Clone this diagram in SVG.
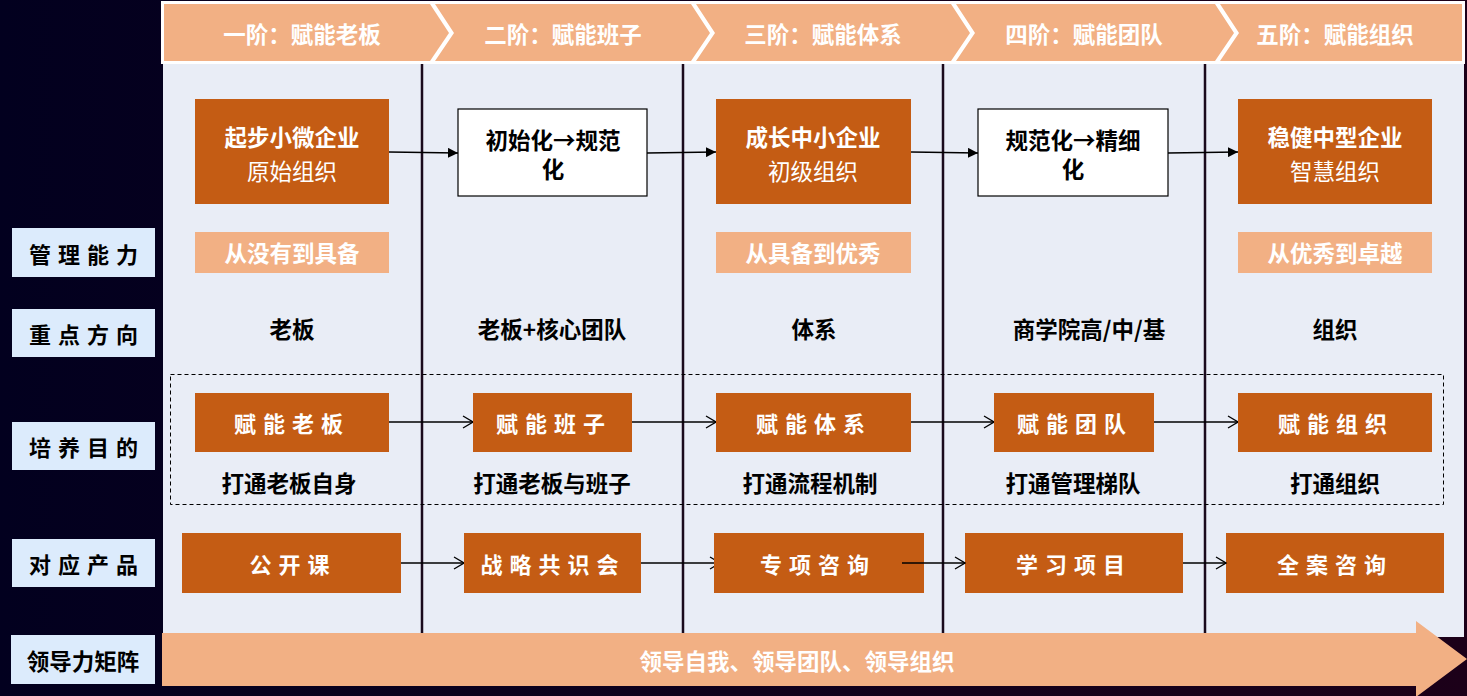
<svg xmlns="http://www.w3.org/2000/svg" width="1467" height="696" viewBox="0 0 1467 696">
<defs>
<linearGradient id="bg" x1="0" y1="0" x2="1" y2="0">
<stop offset="0" stop-color="#02001f"/>
<stop offset="1" stop-color="#1c0019"/>
</linearGradient>
<marker id="tri" viewBox="0 0 10 10" refX="10" refY="5" markerWidth="10" markerHeight="10" markerUnits="userSpaceOnUse" orient="auto">
<path d="M0,0 L10,5 L0,10 Z" fill="#000"/>
</marker>
<marker id="open" viewBox="0 0 12 14" refX="11" refY="7" markerWidth="12" markerHeight="14" markerUnits="userSpaceOnUse" orient="auto">
<path d="M1,1 L11,7 L1,13" fill="none" stroke="#000" stroke-width="1.3"/>
</marker>
<style>
.t{font-family:"Noto Sans CJK SC","Noto Sans",sans-serif;font-weight:bold;text-anchor:middle;dominant-baseline:central}
.hd{fill:#fff;font-size:22.5px}
.lab{fill:#000;font-size:22px;letter-spacing:7px}
.org{fill:#c45c14}
.peach{fill:#f2b084}
.w{fill:#fff;font-size:22.5px}
.wn{fill:#fff;font-size:22.5px;font-weight:normal}
.b{fill:#000;font-size:22.5px}
.sp{font-size:22px;letter-spacing:7px}
.div{stroke:#1a0a1c;stroke-width:2.5}
.c{stroke:#000;stroke-width:1.3;fill:none}
.lb{fill:#dcebfc}
</style>
</defs>
<rect x="0" y="0" width="1467" height="696" fill="url(#bg)"/>
<rect x="163" y="62" width="1301" height="575" fill="#e9edf6"/>
<g id="header">
<rect x="161" y="1" width="1304" height="63" fill="#fff"/>
<polygon class="peach" points="164,4 430,4 449,33 430,61 164,61"/>
<polygon class="peach" points="435,4 691,4 710,33 691,61 435,61 454,33"/>
<polygon class="peach" points="696,4 951,4 970,33 951,61 696,61 715,33"/>
<polygon class="peach" points="956,4 1215,4 1234,33 1215,61 956,61 975,33"/>
<polygon class="peach" points="1220,4 1462,4 1462,61 1220,61 1239,33"/>
<text class="t hd" x="302" y="33">一阶：赋能老板</text>
<text class="t hd" x="563" y="33">二阶：赋能班子</text>
<text class="t hd" x="823" y="33">三阶：赋能体系</text>
<text class="t hd" x="1084" y="33">四阶：赋能团队</text>
<text class="t hd" x="1335" y="33">五阶：赋能组织</text>
</g>
<g id="dividers">
<line class="div" x1="422" y1="64" x2="422" y2="633"/>
<line class="div" x1="683" y1="64" x2="683" y2="633"/>
<line class="div" x1="943" y1="64" x2="943" y2="633"/>
<line class="div" x1="1205" y1="64" x2="1205" y2="633"/>
</g>
<g id="row-labels">
<g id="l-mgmt"><rect class="lb" x="12" y="228" width="143" height="49"/><text class="t lab" x="87" y="253">管理能力</text></g>
<g id="l-focus"><rect class="lb" x="12" y="309" width="143" height="48"/><text class="t lab" x="87" y="333">重点方向</text></g>
<g id="l-goal"><rect class="lb" x="12" y="422" width="143" height="48"/><text class="t lab" x="87" y="446">培养目的</text></g>
<g id="l-prod"><rect class="lb" x="12" y="539" width="143" height="48"/><text class="t lab" x="87" y="563">对应产品</text></g>
<g id="l-lead"><rect class="lb" x="11" y="635" width="144" height="49"/><text class="t b" x="83" y="660">领导力矩阵</text></g>
</g>
<rect id="goal-frame" x="170.5" y="374.5" width="1273" height="130" fill="none" stroke="#000" stroke-width="1" stroke-dasharray="4,3"/>
<g id="connectors">
<line class="c" x1="389" y1="152" x2="458" y2="153" marker-end="url(#tri)"/>
<line class="c" x1="647" y1="153" x2="716" y2="152" marker-end="url(#tri)"/>
<line class="c" x1="911" y1="152" x2="978" y2="153" marker-end="url(#tri)"/>
<line class="c" x1="1168" y1="153" x2="1238" y2="152" marker-end="url(#tri)"/>
<line class="c" x1="389" y1="422" x2="473" y2="422" marker-end="url(#open)"/>
<line class="c" x1="632" y1="422" x2="716" y2="422" marker-end="url(#open)"/>
<line class="c" x1="911" y1="422" x2="994" y2="422" marker-end="url(#open)"/>
<line class="c" x1="1154" y1="422" x2="1238" y2="422" marker-end="url(#open)"/>
<line class="c" x1="401" y1="563" x2="464" y2="563" marker-end="url(#open)"/>
<line class="c" x1="641" y1="563" x2="720" y2="563" marker-end="url(#open)"/>
</g>
<g id="stage1"><rect class="org" x="195" y="99" width="194" height="105"/><text class="t w" x="292" y="136">起步小微企业</text><text class="t wn" x="292" y="170">原始组织</text></g>
<g id="stage2"><rect x="458" y="109" width="189" height="87" fill="#fff" stroke="#000" stroke-width="1.2"/><text class="t b" x="553" y="139">初始化→规范<tspan x="553" dy="29">化</tspan></text></g>
<g id="stage3"><rect class="org" x="716" y="99" width="195" height="105"/><text class="t w" x="813" y="136">成长中小企业</text><text class="t wn" x="813" y="170">初级组织</text></g>
<g id="stage4"><rect x="978" y="109" width="190" height="87" fill="#fff" stroke="#000" stroke-width="1.2"/><text class="t b" x="1073" y="139">规范化→精细<tspan x="1073" dy="29">化</tspan></text></g>
<g id="stage5"><rect class="org" x="1238" y="99" width="194" height="105"/><text class="t w" x="1335" y="136">稳健中型企业</text><text class="t wn" x="1335" y="170">智慧组织</text></g>
<g id="mgmt1"><rect class="peach" x="195" y="232" width="194" height="41"/><text class="t w" x="292" y="252">从没有到具备</text></g>
<g id="mgmt3"><rect class="peach" x="716" y="232" width="195" height="41"/><text class="t w" x="813" y="252">从具备到优秀</text></g>
<g id="mgmt5"><rect class="peach" x="1238" y="232" width="194" height="41"/><text class="t w" x="1335" y="252">从优秀到卓越</text></g>
<g id="focus">
<text class="t b" x="292" y="328">老板</text>
<text class="t b" x="552" y="328">老板+核心团队</text>
<text class="t b" x="814" y="328">体系</text>
<text class="t b" x="1089" y="328">商学院高/中/基</text>
<text class="t b" x="1335" y="328">组织</text>
</g>
<g id="goal1"><rect class="org" x="195" y="393" width="194" height="59"/><text class="t w sp" x="292" y="422">赋能老板</text><text class="t b" x="289" y="482">打通老板自身</text></g>
<g id="goal2"><rect class="org" x="473" y="393" width="159" height="59"/><text class="t w sp" x="554" y="422">赋能班子</text><text class="t b" x="552" y="482">打通老板与班子</text></g>
<g id="goal3"><rect class="org" x="716" y="393" width="195" height="59"/><text class="t w sp" x="814" y="422">赋能体系</text><text class="t b" x="810" y="482">打通流程机制</text></g>
<g id="goal4"><rect class="org" x="994" y="393" width="160" height="59"/><text class="t w sp" x="1075" y="422">赋能团队</text><text class="t b" x="1073" y="482">打通管理梯队</text></g>
<g id="goal5"><rect class="org" x="1238" y="393" width="194" height="59"/><text class="t w sp" x="1336" y="422">赋能组织</text><text class="t b" x="1335" y="482">打通组织</text></g>
<g id="prod1"><rect class="org" x="182" y="533" width="219" height="60"/><text class="t w sp" x="293" y="563">公开课</text></g>
<g id="prod2"><rect class="org" x="464" y="533" width="177" height="60"/><text class="t w sp" x="553" y="563">战略共识会</text></g>
<g id="prod3"><rect class="org" x="714" y="533" width="210" height="60"/><text class="t w sp" x="818" y="563">专项咨询</text></g>
<g id="prod4"><rect class="org" x="965" y="533" width="218" height="60"/><text class="t w sp" x="1074" y="563">学习项目</text></g>
<g id="prod5"><rect class="org" x="1226" y="533" width="218" height="60"/><text class="t w sp" x="1335" y="563">全案咨询</text></g>
<g id="connectors-over">
<line class="c" x1="902" y1="563" x2="965" y2="563" marker-end="url(#open)"/>
<line class="c" x1="1183" y1="563" x2="1226" y2="563" marker-end="url(#open)"/>
</g>
<g id="leadership">
<polygon class="peach" points="162,633 1416,633 1416,621 1467,659 1416,697 1416,686 162,686"/>
<text class="t w" x="797" y="660">领导自我、领导团队、领导组织</text>
</g>
</svg>
